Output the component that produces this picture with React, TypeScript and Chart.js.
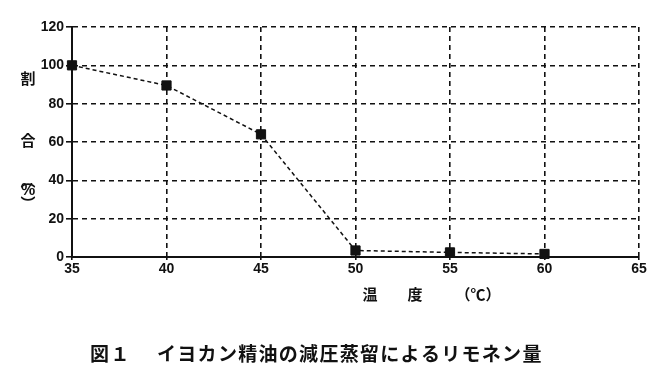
import React, { useEffect, useRef } from "react";
import { Chart, registerables } from "chart.js";

Chart.register(...registerables);

const temperatures = [35, 40, 45, 50, 55, 60];
const ratios = [100, 89.5, 64, 3.4, 2.4, 1.6];
const xTicks = [35, 40, 45, 50, 55, 60, 65];
const yTicks = [0, 20, 40, 60, 80, 100, 120];
const yTitleParts = ["割", "合", "︵", "%", "︶"];
const xTitleParts = ["温", "度", "（℃）"];
const captionHead = "図１";
const captionBody = "イヨカン精油の減圧蒸留によるリモネン量";

const CJK = '"Noto Sans CJK JP", "Noto Sans", sans-serif';
const NUM = '"Liberation Sans Narrow", "Liberation Sans", Arial, sans-serif';

const textPlugin = {
  id: "textPlugin",
  afterDraw(chart: any) {
    const ctx = chart.ctx;
    ctx.save();
    ctx.fillStyle = "#111";
    ctx.textAlign = "center";
    ctx.textBaseline = "middle";
    // y title (vertical)
    const yPos = [78, 140, 180, 191, 203];
    yTitleParts.forEach((t, i) => {
      if (t === "%") ctx.font = `bold 16px ${NUM}`;
      else ctx.font = `bold 15px ${CJK}`;
      ctx.fillText(t, 28, yPos[i]);
    });
    // x title
    ctx.font = `bold 15px ${CJK}`;
    const xPos = [370, 415, 478];
    xTitleParts.forEach((t, i) => ctx.fillText(t, xPos[i], 294));
    // caption
    ctx.font = `bold 19px ${CJK}`;
    ctx.textAlign = "left";
    (ctx as any).letterSpacing = "1.5px";
    ctx.fillText(captionHead, 90, 354);
    (ctx as any).letterSpacing = "1.3px";
    ctx.fillText(captionBody, 157, 354);
    ctx.restore();
  },
};

export default function App() {
  const ref = useRef<HTMLCanvasElement>(null);
  useEffect(() => {
    document.body.style.margin = "0";
    const chart = new Chart(ref.current!, {
      type: "line",
      data: {
        datasets: [
          {
            data: temperatures.map((t, i) => ({ x: t, y: ratios[i] })),
            borderColor: "#111",
            borderWidth: 1.5,
            borderDash: [4, 3],
            pointStyle: "rect",
            pointRadius: 6.5,
            pointBackgroundColor: "#111",
            pointBorderColor: "#111",
            pointBorderWidth: 1,
            tension: 0,
            clip: false,
          },
        ],
      },
      options: {
        animation: false,
        responsive: false,
        layout: { padding: { left: 0, right: 33, top: 27, bottom: 0 } },
        plugins: { legend: { display: false }, tooltip: { enabled: false } },
        scales: {
          x: {
            type: "linear",
            min: 35,
            max: 65,
            afterBuildTicks: (s: any) => {
              s.ticks = xTicks.map((v) => ({ value: v }));
            },
            afterFit: (s: any) => {
              s.height = 127;
            },
            ticks: {
              color: "#111",
              font: { family: NUM, size: 14, weight: "bold" },
              padding: 1,
              maxRotation: 0,
            },
            grid: {
              color: "#111",
              lineWidth: 1.6,
              tickLength: 3,
              tickColor: "#111",
            },
            border: { display: true, color: "#111", width: 2, dash: [5, 4] },
          },
          y: {
            min: 0,
            max: 120,
            afterBuildTicks: (s: any) => {
              s.ticks = yTicks.map((v) => ({ value: v }));
            },
            afterFit: (s: any) => {
              s.width = 72;
            },
            ticks: {
              color: "#111",
              font: { family: NUM, size: 14, weight: "bold" },
              padding: 2,
            },
            grid: {
              color: "#111",
              lineWidth: 1.6,
              tickLength: 6,
              tickColor: "#111",
            },
            border: { display: true, color: "#111", width: 2, dash: [5, 4] },
          },
        },
      },
      plugins: [textPlugin],
    });
    return () => chart.destroy();
  }, []);
  return (
    <div style={{ width: 672, height: 384, background: "#fff" }}>
      <canvas ref={ref} width={672} height={384} />
    </div>
  );
}
